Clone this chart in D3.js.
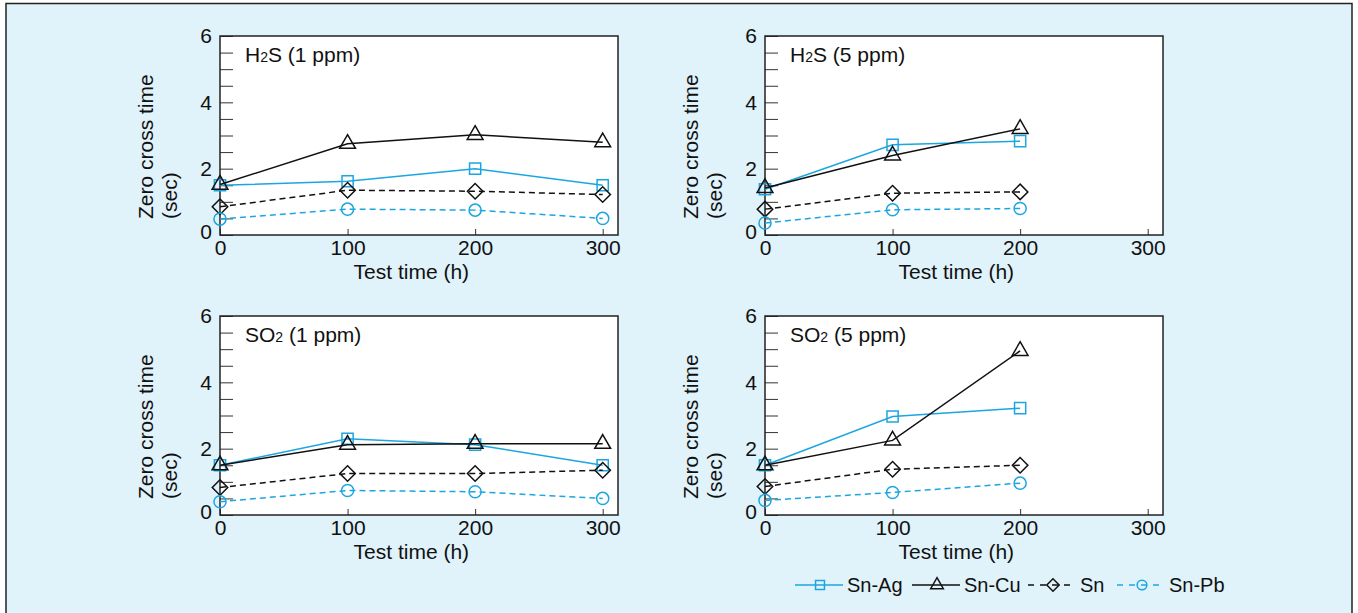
<!DOCTYPE html>
<html>
<head>
<meta charset="utf-8">
<title>Zero cross time</title>
<script src="https://cdn.jsdelivr.net/npm/d3@7"></script>
<style>
  body { margin: 0; background: #fff; }
  text { font-family: "Liberation Sans", Arial, sans-serif; fill: #111; }
</style>
</head>
<body>
<script>
    // data
    var hours = [0, 100, 200, 300];
    var alloys = ["Sn-Ag", "Sn-Cu", "Sn", "Sn-Pb"];
    var yTicks = [0, 2, 4, 6];

    // H2S 1 ppm
    var h2s1Ag = [1.5, 1.62, 2.0, 1.5];
    var h2s1Cu = [1.52, 2.75, 3.02, 2.8];
    var h2s1Sn = [0.85, 1.35, 1.32, 1.22];
    var h2s1Pb = [0.48, 0.78, 0.75, 0.5];
    // H2S 5 ppm (no 300 h point)
    var h2s5Ag = [1.38, 2.72, 2.83];
    var h2s5Cu = [1.42, 2.4, 3.2];
    var h2s5Sn = [0.78, 1.26, 1.3];
    var h2s5Pb = [0.36, 0.76, 0.8];
    // SO2 1 ppm
    var so21Ag = [1.5, 2.3, 2.12, 1.5];
    var so21Cu = [1.5, 2.12, 2.15, 2.15];
    var so21Sn = [0.83, 1.25, 1.25, 1.35];
    var so21Pb = [0.4, 0.74, 0.7, 0.5];
    // SO2 5 ppm (no 300 h point)
    var so25Ag = [1.5, 2.97, 3.22];
    var so25Cu = [1.5, 2.25, 4.95];
    var so25Sn = [0.86, 1.38, 1.5];
    var so25Pb = [0.44, 0.68, 0.96];

    var panels = [
        { gas: "H", sub: "2", rest: "S (1 ppm)", series: [h2s1Ag, h2s1Cu, h2s1Sn, h2s1Pb], col: 0, row: 0 },
        { gas: "H", sub: "2", rest: "S (5 ppm)", series: [h2s5Ag, h2s5Cu, h2s5Sn, h2s5Pb], col: 1, row: 0 },
        { gas: "SO", sub: "2", rest: " (1 ppm)", series: [so21Ag, so21Cu, so21Sn, so21Pb], col: 0, row: 1 },
        { gas: "SO", sub: "2", rest: " (5 ppm)", series: [so25Ag, so25Cu, so25Sn, so25Pb], col: 1, row: 1 }
    ];

    var cyan = "#1ba6e1", black = "#111";
    var styles = [
        { color: cyan,  dash: null,  shape: "square" },
        { color: black, dash: null,  shape: "triangle" },
        { color: black, dash: "6,4", shape: "diamond" },
        { color: cyan,  dash: "6,4", shape: "circle" }
    ];

    var width = 1358, height = 613;
    var svg = d3.select("body").append("svg")
        .attr("width", width)
        .attr("height", height);

    svg.append("rect")
        .attr("x", 0).attr("y", 0)
        .attr("width", width).attr("height", height)
        .attr("fill", "#fff");
    svg.append("rect")
        .attr("x", 6).attr("y", 3.5)
        .attr("width", 1346).attr("height", 640)
        .attr("fill", "#e0f2fa")
        .attr("stroke", "#222")
        .attr("stroke-width", 1.5);

    var plotW = 398, plotH = 199;

    var x = d3.scaleLinear().domain([0, 312]).range([0, plotW]);
    var y = d3.scaleLinear().domain([0, 6]).range([plotH, 0]);

    function marker(shape, big) {
        var k = big ? 1 : 0.8;
        if (shape == "square") return d3.symbol(d3.symbolSquare, 125 * k * k)();
        if (shape == "triangle") return d3.symbol(d3.symbolTriangle, 108 * k * k)();
        if (shape == "circle") return d3.symbol(d3.symbolCircle, 115 * k * k)();
        return d3.symbol(d3.symbolSquare, 120 * k * k)();
    }

    panels.forEach(function(p) {
        var g = svg.append("g")
            .attr("transform", "translate(" + (220 + p.col * 545) + "," + (36 + p.row * 280) + ")");

        g.append("rect")
            .attr("width", plotW).attr("height", plotH)
            .attr("fill", "#fff");

        var yAxis = d3.axisLeft(y)
            .tickValues(d3.range(0, 6.01, 0.5))
            .tickSize(-13)
            .tickSizeOuter(0)
            .tickPadding(8)
            .tickFormat(function(d) { return yTicks.indexOf(d) >= 0 ? d : ""; });
        var ya = g.append("g").call(yAxis);
        ya.select(".domain").remove();
        ya.selectAll("line").attr("stroke", "#333");
        ya.selectAll("text").attr("font-size", 21).attr("font-family", null).attr("fill", "#111")
            .attr("dy", function(d) { return d == 0 ? "0.15em" : "0.32em"; });

        var xAxis = d3.axisBottom(x)
            .tickValues(hours)
            .tickSize(-6)
            .tickSizeOuter(0)
            .tickPadding(5);
        var xa = g.append("g").attr("transform", "translate(0," + plotH + ")").call(xAxis);
        xa.select(".domain").remove();
        xa.selectAll("line").attr("stroke", "#333");
        xa.selectAll("text").attr("font-size", 21).attr("font-family", null).attr("fill", "#111");

        g.append("rect")
            .attr("width", plotW).attr("height", plotH)
            .attr("fill", "none")
            .attr("stroke", "#222")
            .attr("stroke-width", 1.5);

        // panel title with subscript
        var t = g.append("text").attr("x", 25).attr("y", 26).attr("font-size", 21);
        t.append("tspan").text(p.gas);
        t.append("tspan").attr("font-size", 14).text(p.sub);
        t.append("tspan").text(p.rest);

        // axis titles
        g.append("text")
            .attr("transform", "translate(-67," + (plotH - 16) + ") rotate(-90)")
            .attr("font-size", 21)
            .text("Zero cross time");
        g.append("text")
            .attr("transform", "translate(-43," + (plotH - 16) + ") rotate(-90)")
            .attr("font-size", 21)
            .text("(sec)");
        g.append("text")
            .attr("x", (x(0) + x(300)) / 2)
            .attr("y", plotH + 44)
            .attr("text-anchor", "middle")
            .attr("font-size", 21)
            .text("Test time (h)");

        var line = d3.line()
            .x(function(d, i) { return x(hours[i]); })
            .y(function(d) { return y(d); });

        p.series.forEach(function(vals, si) {
            var st = styles[si];
            g.append("path")
                .datum(vals)
                .attr("d", line)
                .attr("fill", "none")
                .attr("stroke", st.color)
                .attr("stroke-width", 1.5)
                .attr("stroke-dasharray", st.dash);
            g.selectAll(".m" + si)
                .data(vals)
                .enter()
                .append("path")
                .attr("class", "m" + si)
                .attr("d", marker(st.shape, true))
                .attr("transform", function(d, i) {
                    return "translate(" + x(hours[i]) + "," + y(d) + ")" + (st.shape == "diamond" ? " rotate(45)" : "");
                })
                .attr("fill", "none")
                .attr("stroke", st.color)
                .attr("stroke-width", 1.5);
        });
    });

    // legend
    var legX = [795, 912, 1028, 1117];
    var legY = 585;
    var leg = svg.append("g");
    alloys.forEach(function(name, i) {
        var st = styles[i];
        var x0 = legX[i];
        leg.append("line")
            .attr("x1", x0).attr("x2", x0 + 48)
            .attr("y1", legY).attr("y2", legY)
            .attr("stroke", st.color)
            .attr("stroke-width", 1.5)
            .attr("stroke-dasharray", st.dash ? "6,6" : null);
        leg.append("path")
            .attr("d", marker(st.shape, false))
            .attr("transform", "translate(" + (x0 + 25) + "," + legY + ")" + (st.shape == "diamond" ? " rotate(45)" : ""))
            .attr("fill", "none")
            .attr("stroke", st.color)
            .attr("stroke-width", 1.5);
        leg.append("text")
            .attr("x", x0 + 52)
            .attr("y", legY + 7)
            .attr("font-size", 20)
            .text(name);
    });
</script>
</body>
</html>
